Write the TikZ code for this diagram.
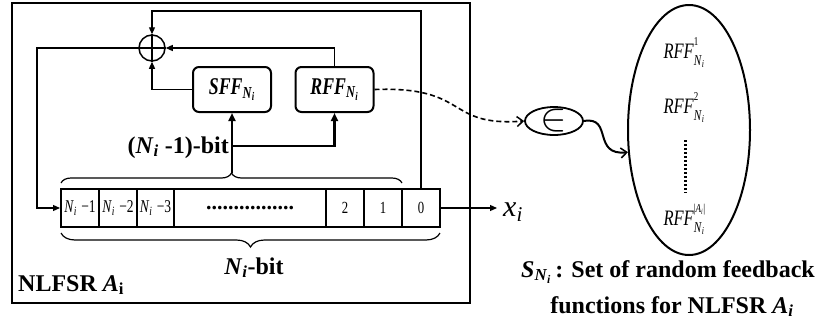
\documentclass[tikz,border=0pt]{standalone}
\usepackage{fontspec}
\setmainfont{Liberation Serif}
\usetikzlibrary{arrows.meta,decorations.pathreplacing,shapes.geometric}
\newcommand\Ni{\textit{N}\textsubscript{\textit{i}}}
\newcommand\cnd[1]{\scalebox{0.75}[1]{#1}}
\newcommand\fsz[1]{\fontsize{#1}{#1}\selectfont}
\newcommand\rffs[1]{\cnd{\fsz{22}\textit{RFF}\makebox[0pt][l]{\raisebox{0.55em}{\fsz{12}#1}}\raisebox{-0.32em}{\fsz{15}\Ni}}}
\begin{document}
\begin{tikzpicture}[x=1pt,y=-1pt,
  thinline/.style={line width=1.2pt},
  arr/.style={thinline,-{Triangle[length=7pt,width=6pt]}},
  bitsarr/.style={line width=2.5pt,-{Triangle[length=8pt,width=7pt]}},
  fbox/.style={draw,line width=2pt,rounded corners=6pt,minimum width=78pt,minimum height=45pt,inner sep=0pt},
  cell/.style={draw,line width=2pt,minimum height=38pt,inner sep=0pt},
  lab/.style={font=\bfseries\fsz{24},inner sep=0pt},
  barb/.style={-{Straight Barb[length=6pt,width=10pt,line width=1.5pt]}},
]
\useasboundingbox (0,0) rectangle (815,325);

% outer NLFSR frame
\node[draw,line width=2pt,minimum width=458pt,minimum height=300pt,anchor=north west,inner sep=0pt] (frame) at (11,1.5) {};
\node[lab,anchor=base west] (lbl) at (18,291) {NLFSR \textit{A}\textsubscript{i}};

% XOR
\node[circle,draw,line width=1.5pt,minimum size=26pt,inner sep=0pt] (xor) at (152,48) {};
\draw[line width=1.5pt] (xor.north) -- (xor.south) (xor.west) -- (xor.east);

% feedback function boxes
\node[fbox] (sff) at (232,89.5) {\scalebox{0.74}[1]{\fsz{24}\textbf{\textit{SFF}}\textsubscript{\textbf{\Ni}}}};
\node[fbox] (rff) at (334.5,89.5) {\scalebox{0.74}[1]{\fsz{24}\textbf{\textit{RFF}}\textsubscript{\textbf{\Ni}}}};

% register
\node[cell,minimum width=38pt] (cA) at (80,208) {\cnd{\fsz{18}\Ni\,\,−1}};
\node[cell,minimum width=38pt] (cB) at (118,208) {\cnd{\fsz{18}\Ni\,\,−2}};
\node[cell,minimum width=37pt] (cC) at (155.5,208) {\cnd{\fsz{18}\Ni\,\,−3}};
\node[cell,minimum width=152pt] (cD) at (250,208) {\fsz{22}\textbf{................}};
\node[cell,minimum width=38pt] (c2) at (345,208) {\cnd{\fsz{17}2}};
\node[cell,minimum width=38pt] (c1) at (383,208) {\cnd{\fsz{17}1}};
\node[cell,minimum width=38pt] (c0) at (421,208) {\cnd{\fsz{17}0}};

% braces
\draw[thinline,decorate,decoration={brace,amplitude=10pt}] (61,183) -- (402,183);
\draw[thinline,decorate,decoration={brace,amplitude=14pt}] (440,233) -- (61,233);
\coordinate (tb) at (232,173);
\coordinate (br) at (232,146);
\node[lab,anchor=base east] (bits) at (229,153) {(\Ni\ -1)-bit};
\node[lab,anchor=base] (nbit) at (254,274) {\Ni-bit};

% bit lines
\draw[bitsarr] (tb) -- (tb |- sff.south);
\draw[bitsarr] (br) -| (rff.south);

% feedback connectors
\coordinate (top) at (152,11);
\coordinate (lft) at (37,48);
\draw[arr] (c0.north) |- (top) -- (xor.north);
\draw[arr] (xor.west) -- (lft) |- (cA.west);
\draw[arr] (rff.north) |- (xor.east);
\draw[arr] (sff.west) -| (xor.south);

% output
\node[anchor=base west,font=\fsz{30},inner sep=6pt] (xi) at (497,216) {\textit{x}\textsubscript{\textit{i}}};
\draw[arr] (c0.east) -- (c0.east -| xi.west);

% element-of and set
\node[ellipse,draw,line width=1.8pt,minimum width=58pt,minimum height=28pt,inner sep=0pt] (elem) at (554,121) {};
\node[inner sep=0pt,font=\fsz{24}] (elemsym) at (elem.center) {\scalebox{1.6}{$\in$}};
\node[ellipse,draw,line width=2pt,minimum width=122pt,minimum height=250pt,inner sep=0pt] (set) at (689,130) {};
\node[anchor=base,inner sep=0pt] (r1) at (684,58) {\rffs{1}};
\node[anchor=base,inner sep=0pt] (r2) at (684,113) {\rffs{2}};
\node[anchor=base,inner sep=0pt] (r3) at (684,225) {\rffs{|\textit{A}\textsubscript{\textit{i}}|}};
\coordinate (vd1) at (685,140);
\coordinate (vd2) at (685,193);
\draw[line width=3pt,dash pattern=on 2pt off 2pt] (vd1) -- (vd2);

\draw[line width=1.6pt,dash pattern=on 5pt off 3pt,barb] (rff.east) .. controls (470,86) and (445,127) .. (elem.west);
\draw[line width=2pt,barb] (elem.east) .. controls (613,116) and (592,156) .. (set.200);

% caption
\node[lab,anchor=base] (cap1) at (668,277) {\textit{S}\textsubscript{\Ni}\,: Set of random feedback};
\node[lab,anchor=base] (cap2) at (672,313) {functions for NLFSR \textit{A}\textsubscript{\textit{i}}};
\end{tikzpicture}
\end{document}
